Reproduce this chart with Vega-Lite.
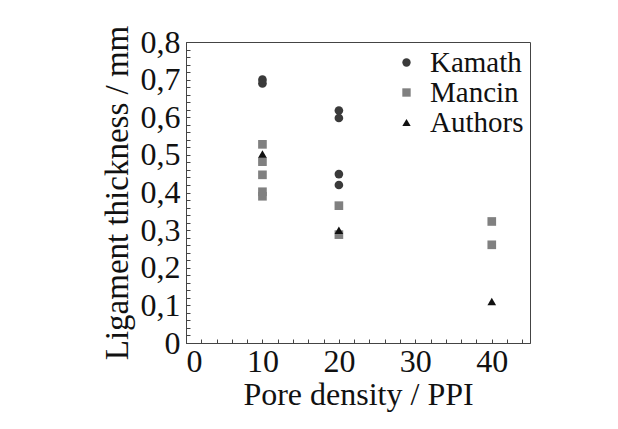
{
  "$schema": "https://vega.github.io/schema/vega-lite/v6.json",
  "autosize": {"type": "none"},
  "padding": {"left": 186, "top": 42, "right": 88, "bottom": 86},
  "width": 344,
  "height": 301,
  "background": "white",
  "data": {"values": [
    {"ppi": 10, "thickness": 0.70, "source": "Kamath"},
    {"ppi": 10, "thickness": 0.69, "source": "Kamath"},
    {"ppi": 20, "thickness": 0.618, "source": "Kamath"},
    {"ppi": 20, "thickness": 0.598, "source": "Kamath"},
    {"ppi": 20, "thickness": 0.449, "source": "Kamath"},
    {"ppi": 20, "thickness": 0.42, "source": "Kamath"},
    {"ppi": 10, "thickness": 0.528, "source": "Mancin"},
    {"ppi": 10, "thickness": 0.482, "source": "Mancin"},
    {"ppi": 10, "thickness": 0.447, "source": "Mancin"},
    {"ppi": 10, "thickness": 0.402, "source": "Mancin"},
    {"ppi": 10, "thickness": 0.39, "source": "Mancin"},
    {"ppi": 20, "thickness": 0.365, "source": "Mancin"},
    {"ppi": 20, "thickness": 0.288, "source": "Mancin"},
    {"ppi": 40, "thickness": 0.323, "source": "Mancin"},
    {"ppi": 40, "thickness": 0.261, "source": "Mancin"},
    {"ppi": 10, "thickness": 0.502, "source": "Authors"},
    {"ppi": 20, "thickness": 0.30, "source": "Authors"},
    {"ppi": 40, "thickness": 0.11, "source": "Authors"}
  ]},
  "mark": {"type": "point", "filled": true, "size": 75, "opacity": 1},
  "encoding": {
    "x": {
      "field": "ppi", "type": "quantitative",
      "scale": {"domain": [0, 45], "nice": false, "zero": true},
      "axis": {
        "title": "Pore density / PPI",
        "values": [0,2,4,6,8,10,12,14,16,18,20,22,24,26,28,30,32,34,36,38,40,42,44],
        "labelExpr": "datum.value % 10 == 0 ? format(datum.value, 'd') : ''",
        "labelOverlap": false,
        "tickSize": -4,
        "labelPadding": 7,
        "titlePadding": 2,
        "grid": false
      }
    },
    "y": {
      "field": "thickness", "type": "quantitative",
      "scale": {"domain": [0, 0.8], "nice": false},
      "axis": {
        "title": "Ligament thickness / mm",
        "values": [0,0.02,0.04,0.06,0.08,0.1,0.12,0.14,0.16,0.18,0.2,0.22,0.24,0.26,0.28,0.3,0.32,0.34,0.36,0.38,0.4,0.42,0.44,0.46,0.48,0.5,0.52,0.54,0.56,0.58,0.6,0.62,0.64,0.66,0.68,0.7,0.72,0.74,0.76,0.78,0.8],
        "labelExpr": "abs(datum.value*10 - round(datum.value*10)) < 0.001 ? (datum.value == 0 ? '0' : replace(format(datum.value, '.1f'), '.', ',')) : ''",
        "labelOverlap": false,
        "tickSize": -4,
        "labelPadding": 10,
        "titlePadding": 6,
        "titleFontSize": 33,
        "grid": false
      }
    },
    "color": {
      "field": "source", "type": "nominal",
      "scale": {"domain": ["Kamath", "Mancin", "Authors"], "range": ["#3a3a3a", "#808080", "#111111"]},
      "legend": {"title": null}
    },
    "shape": {
      "field": "source", "type": "nominal",
      "scale": {"domain": ["Kamath", "Mancin", "Authors"], "range": ["circle", "square", "triangle-up"]},
      "legend": {"title": null}
    }
  },
  "config": {
    "font": "Liberation Serif",
    "view": {"stroke": "#444444", "strokeWidth": 1},
    "axis": {
      "labelFont": "Liberation Serif",
      "titleFont": "Liberation Serif",
      "labelFontSize": 32,
      "titleFontSize": 32,
      "titleFontWeight": "normal",
      "labelColor": "#111111",
      "titleColor": "#111111",
      "domainColor": "#444444",
      "tickColor": "#444444"
    },
    "legend": {
      "orient": "top-right",
      "offset": 6,
      "labelFont": "Liberation Serif",
      "labelFontSize": 29,
      "labelColor": "#111111",
      "symbolSize": 70,
      "symbolStrokeWidth": 0,
      "rowPadding": 0,
      "labelOffset": 9,
      "padding": 0
    }
  }
}
